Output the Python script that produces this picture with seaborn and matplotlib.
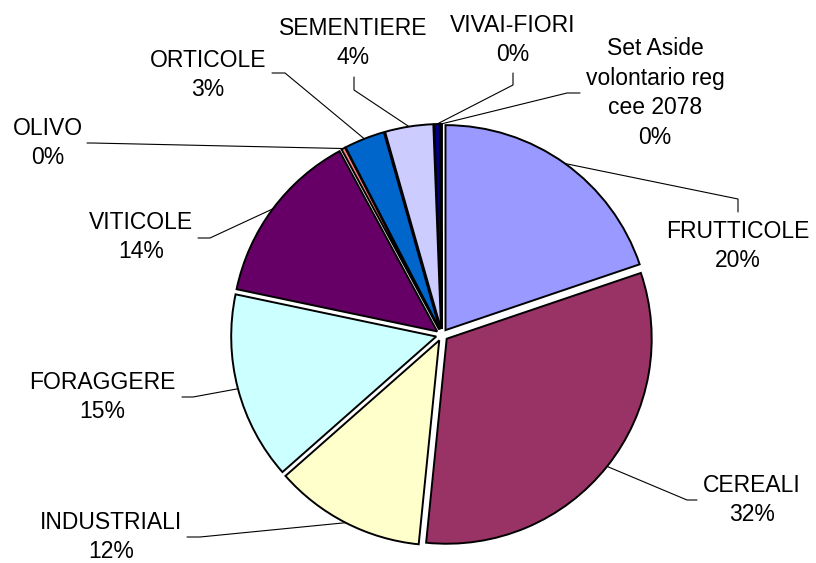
import matplotlib
matplotlib.use('Agg')
import matplotlib.pyplot as plt
import seaborn as sns
import numpy as np

# categorie e quote
categorie = ['FRUTTICOLE', 'CEREALI', 'INDUSTRIALI', 'FORAGGERE', 'VITICOLE',
             'OLIVO', 'ORTICOLE', 'SEMENTIERE', 'VIVAI-FIORI',
             'Set Aside\nvolontario reg\ncee 2078']
quote = [19.8, 31.8, 11.9, 14.8, 13.8, 0.3, 3.2, 3.8, 0.45, 0.15]
colori = ['#9999FF', '#993366', '#FFFFCC', '#CCFFFF', '#660066',
          '#FF8080', '#0066CC', '#CCCCFF', '#000080', '#FF00FF']

# posizione etichette (coordinate immagine, pixel)
pos_etichette = [(738, 246), (752, 500), (111, 537), (102, 397), (141, 237),
                 (48, 143), (208, 75), (353, 43), (513, 40), (655, 93)]
# punti delle linee guida lato etichetta (ancora, gomito)
linee_guida = [[(738, 212), (738, 199)], [(697, 500), (687, 500)],
               [(187, 537), (200, 537)], [(182, 397), (193, 397)],
               [(198, 238), (210, 238)], [(87, 143), (92, 143)],
               [(272, 73), (285, 73)], [(354, 77), (354, 90)],
               [(513, 73), (513, 85)], [(580, 93), (567, 93)]]

W, H = 816, 563
CX, CY, R, ESPL = 442, 335, 205, 6

def img(x, y):
    return x, H - y

sns.set_theme(style='white')
plt.rcParams['font.family'] = ['Liberation Sans', 'DejaVu Sans']

fig = plt.figure(figsize=(W / 100, H / 100), dpi=100)
ax = fig.add_axes([0, 0, 1, 1])

wedges, _ = ax.pie(quote, colors=colori, startangle=90, counterclock=False,
                   radius=R, center=img(CX, CY), explode=[ESPL] * len(quote),
                   wedgeprops=dict(edgecolor='black', linewidth=1.4))
ax.set_xlim(0, W)
ax.set_ylim(0, H)
ax.set_aspect('equal')
ax.axis('off')

tot = sum(quote)
for w, nome, v, (tx, ty), guida in zip(wedges, categorie, quote, pos_etichette, linee_guida):
    ang = np.deg2rad((w.theta1 + w.theta2) / 2)
    px = CX + (R + ESPL) * np.cos(ang)
    py = CY - (R + ESPL) * np.sin(ang)
    xs = [guida[0][0], guida[1][0], px]
    ys = [H - guida[0][1], H - guida[1][1], H - py]
    ax.plot(xs, ys, color='black', lw=0.8, zorder=1)
    ax.text(*img(tx, ty), f"{nome}\n{round(v / tot * 100):.0f}%", ha='center', va='center',
            fontsize=16.5, linespacing=1.38, color='black')

fig.savefig('out.png', dpi=100, facecolor='white')
